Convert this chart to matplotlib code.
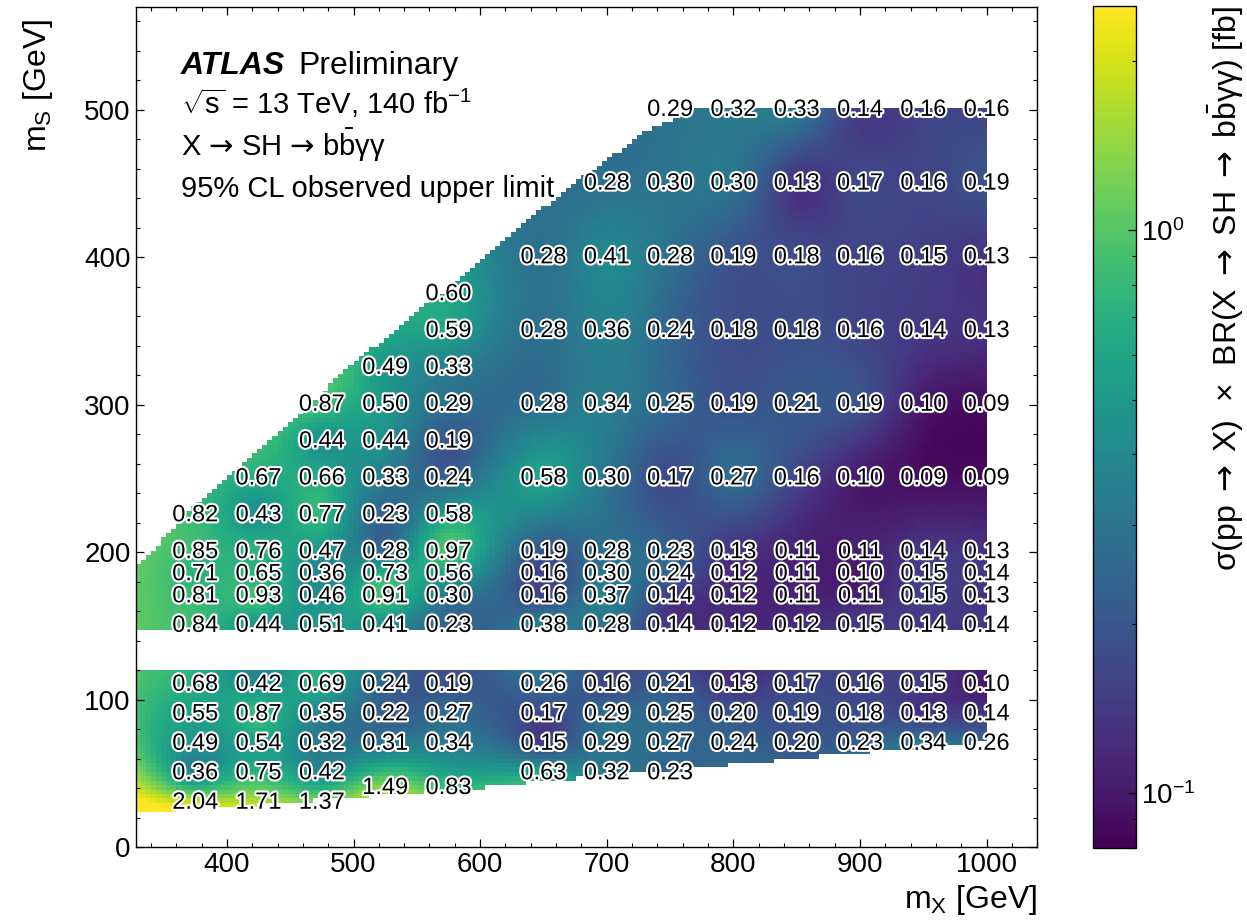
import numpy as np
import matplotlib
matplotlib.use("Agg")
import matplotlib.pyplot as plt
from matplotlib.colors import LogNorm
from matplotlib.path import Path
import matplotlib.patheffects as pe
from matplotlib.ticker import MultipleLocator, LogLocator, NullFormatter

plt.rcParams['font.family'] = ['Liberation Sans', 'DejaVu Sans']
plt.rcParams['mathtext.fontset'] = 'custom'
plt.rcParams['mathtext.rm'] = 'Liberation Sans'
plt.rcParams['mathtext.it'] = 'Liberation Sans:italic'
plt.rcParams['mathtext.bf'] = 'Liberation Sans:bold'
plt.rcParams['mathtext.sf'] = 'DejaVu Sans'   # used for the arrows

# ---- mass points (GeV) ----
mx_low = [375, 425, 475, 525, 575]
mx_high = [650, 700, 750, 800, 850, 900, 950, 1000]
ms_rows = [500, 450, 400, 375, 350, 325, 300, 275, 250, 225,
           200, 185, 170, 150, 110, 90, 70, 50, 40, 30]

N = np.nan
# observed 95% CL upper limits [fb], one row per ms_rows entry
limits_low = [
    [N, N, N, N, N],                  # 500
    [N, N, N, N, N],                  # 450
    [N, N, N, N, N],                  # 400
    [N, N, N, N, 0.60],               # 375
    [N, N, N, N, 0.59],               # 350
    [N, N, N, 0.49, 0.33],            # 325
    [N, N, 0.87, 0.50, 0.29],         # 300
    [N, N, 0.44, 0.44, 0.19],         # 275
    [N, 0.67, 0.66, 0.33, 0.24],      # 250
    [0.82, 0.43, 0.77, 0.23, 0.58],   # 225
    [0.85, 0.76, 0.47, 0.28, 0.97],   # 200
    [0.71, 0.65, 0.36, 0.73, 0.56],   # 185
    [0.81, 0.93, 0.46, 0.91, 0.30],   # 170
    [0.84, 0.44, 0.51, 0.41, 0.23],   # 150
    [0.68, 0.42, 0.69, 0.24, 0.19],   # 110
    [0.55, 0.87, 0.35, 0.22, 0.27],   # 90
    [0.49, 0.54, 0.32, 0.31, 0.34],   # 70
    [0.36, 0.75, 0.42, N, N],         # 50
    [N, N, N, 1.49, 0.83],            # 40
    [2.04, 1.71, 1.37, N, N],         # 30
]
limits_high = [
    [N, N, 0.29, 0.32, 0.33, 0.14, 0.16, 0.16],           # 500
    [N, 0.28, 0.30, 0.30, 0.13, 0.17, 0.16, 0.19],        # 450
    [0.28, 0.41, 0.28, 0.19, 0.18, 0.16, 0.15, 0.13],     # 400
    [N, N, N, N, N, N, N, N],                             # 375
    [0.28, 0.36, 0.24, 0.18, 0.18, 0.16, 0.14, 0.13],     # 350
    [N, N, N, N, N, N, N, N],                             # 325
    [0.28, 0.34, 0.25, 0.19, 0.21, 0.19, 0.10, 0.09],     # 300
    [N, N, N, N, N, N, N, N],                             # 275
    [0.58, 0.30, 0.17, 0.27, 0.16, 0.10, 0.09, 0.09],     # 250
    [N, N, N, N, N, N, N, N],                             # 225
    [0.19, 0.28, 0.23, 0.13, 0.11, 0.11, 0.14, 0.13],     # 200
    [0.16, 0.30, 0.24, 0.12, 0.11, 0.10, 0.15, 0.14],     # 185
    [0.16, 0.37, 0.14, 0.12, 0.11, 0.11, 0.15, 0.13],     # 170
    [0.38, 0.28, 0.14, 0.12, 0.12, 0.15, 0.14, 0.14],     # 150
    [0.26, 0.16, 0.21, 0.13, 0.17, 0.16, 0.15, 0.10],     # 110
    [0.17, 0.29, 0.25, 0.20, 0.19, 0.18, 0.13, 0.14],     # 90
    [0.15, 0.29, 0.27, 0.24, 0.20, 0.23, 0.34, 0.26],     # 70
    [0.63, 0.32, 0.23, N, N, N, N, N],                    # 50
    [N, N, N, N, N, N, N, N],                             # 40
    [N, N, N, N, N, N, N, N],                             # 30
]

# ---- kinematic reach of the scan (mX, mS) ----
upper_region = [(328, 146), (328, 191), (347, 206), (387, 242), (400, 249),
                (452, 290), (503, 330), (552, 364), (592, 391), (616, 410),
                (668, 446), (732, 486), (771, 500), (1000, 500), (1000, 146)]
lower_region = [(328, 24), (347, 25), (400, 27), (452, 30.5), (505, 34),
                (552, 37.3), (602, 40), (616, 42), (771, 53.4), (845, 59.7),
                (1000, 71.5), (1000, 119), (328, 119)]

# ---- collect points ----
px, py, pv = [], [], []
for i, ms in enumerate(ms_rows):
    for j, mx in enumerate(mx_low):
        v = limits_low[i][j]
        if not np.isnan(v):
            px.append(mx); py.append(ms); pv.append(v)
    for j, mx in enumerate(mx_high):
        v = limits_high[i][j]
        if not np.isnan(v):
            px.append(mx); py.append(ms); pv.append(v)
px = np.array(px, float); py = np.array(py, float); pv = np.array(pv, float)

# thin-plate spline interpolation of log10(limit)
def tps(r):
    out = np.zeros_like(r)
    nz = r > 0
    out[nz] = r[nz] ** 2 * np.log(r[nz])
    return out

u, w = px / 100.0, py / 100.0
n = len(u)
D = np.hypot(u[:, None] - u[None, :], w[:, None] - w[None, :])
K = tps(D) + 1e-4 * np.eye(n)
Q = np.column_stack([np.ones(n), u, w])
A = np.zeros((n + 3, n + 3))
A[:n, :n] = K
A[:n, n:] = Q
A[n:, :n] = Q.T
rhs = np.concatenate([np.log10(pv), np.zeros(3)])
coef = np.linalg.solve(A, rhs)

xe = np.arange(328, 1000.1, 4.0)
ye = np.arange(0, 503, 3.0)
xc = 0.5 * (xe[1:] + xe[:-1])
yc = 0.5 * (ye[1:] + ye[:-1])
GX, GY = np.meshgrid(xc, yc)
gu, gw = GX.ravel() / 100.0, GY.ravel() / 100.0
Dg = np.hypot(gu[:, None] - u[None, :], gw[:, None] - w[None, :])
Z = tps(Dg) @ coef[:n] + coef[n] + coef[n + 1] * gu + coef[n + 2] * gw
Z = (10 ** Z).reshape(GX.shape)

cell_pts = np.column_stack([GX.ravel(), GY.ravel()])
inside = (Path(upper_region).contains_points(cell_pts) |
          Path(lower_region).contains_points(cell_pts)).reshape(GX.shape)
Zm = np.ma.masked_where(~inside, Z)

# ---- figure ----
W, H = 1247, 921
fig = plt.figure(figsize=(W / 100, H / 100), dpi=100)
ax = fig.add_axes([135.7 / W, 74 / H, (1037.3 - 135.7) / W, (847 - 6.7) / H])
norm = LogNorm(vmin=0.08, vmax=2.5)
mesh = ax.pcolormesh(xe, ye, Zm, cmap='viridis', norm=norm, shading='flat',
                     rasterized=True)

stroke = [pe.withStroke(linewidth=3, foreground='white')]
for x, y, v in zip(px, py, pv):
    ax.text(x, y, f"{v:.2f}", ha='center', va='center', fontsize=17,
            color='black', path_effects=stroke, clip_on=False, zorder=5)

ax.set_xlim(328, 1040)
ax.set_ylim(0, 570)
ax.xaxis.set_major_locator(MultipleLocator(100))
ax.xaxis.set_minor_locator(MultipleLocator(20))
ax.yaxis.set_major_locator(MultipleLocator(100))
ax.yaxis.set_minor_locator(MultipleLocator(20))
ax.tick_params(which='both', direction='in', top=True, right=True, labelsize=20)
ax.tick_params(which='major', length=6, width=0.9)
ax.tick_params(which='minor', length=3, width=0.8)
for s in ax.spines.values():
    s.set_linewidth(1.0)

ax.set_xlabel(r'm$_\mathrm{X}$ [GeV]', fontsize=23, loc='right', labelpad=4)
ax.set_ylabel(r'm$_\mathrm{S}$ [GeV]', fontsize=23, loc='top')
ax.yaxis.set_label_coords((55 - 135.7) / 901.6, 0.985)

# ---- text block ----
ARROW = r'$\mathsf{→}$'

def ftext(x, y, s, **kw):
    fig.text(x / W, 1 - y / H, s, va='baseline', ha='left', **kw)

ftext(181, 74, 'ATLAS', fontsize=23, fontweight='bold', fontstyle='italic')
ftext(298, 74, 'Preliminary', fontsize=23)
ftext(181, 114, r'$\sqrt{\mathrm{s}}$ = 13 TeV, 140 fb$^{-1}$', fontsize=21)
ftext(181, 156, 'X ' + ARROW + r' SH ' + ARROW + r' b$\bar{\mathrm{b}}$γγ',
      fontsize=21)
ftext(181, 197, '95% CL observed upper limit', fontsize=21)

# ---- colour bar ----
cax = fig.add_axes([1093 / W, 73 / H, 43 / W, 842 / H])
cbar = fig.colorbar(mesh, cax=cax)
cbar.ax.yaxis.set_major_locator(LogLocator(base=10))
cbar.ax.yaxis.set_minor_locator(LogLocator(base=10, subs=np.arange(2, 10)))
cbar.ax.yaxis.set_minor_formatter(NullFormatter())
cbar.ax.tick_params(which='both', direction='in', right=True, left=False,
                    labelsize=20)
cbar.ax.tick_params(which='major', length=6, width=0.9)
cbar.ax.tick_params(which='minor', length=3, width=0.8)
cbar.outline.set_linewidth(1.0)
CB_ARROW = r' $\,\mathsf{→}\,$ '
cbar.set_label('σ(pp' + CB_ARROW + 'X)  ×  BR(X' + CB_ARROW + 'SH' +
               CB_ARROW + r'b$\bar{\mathrm{b}}$γγ) [fb]',
               fontsize=23, loc='top', labelpad=8)

fig.savefig('out.png', dpi=100)
